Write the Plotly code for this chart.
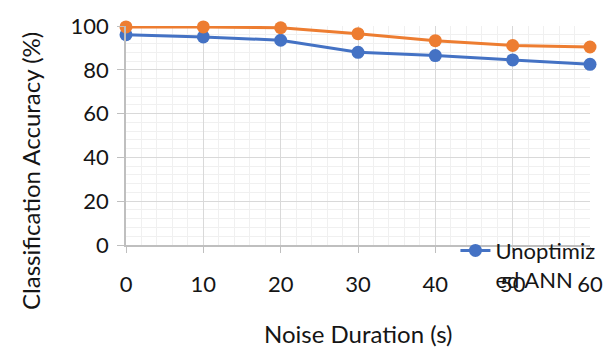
import plotly.graph_objects as go

noise_duration = [0, 10, 20, 30, 40, 50, 60]
unoptimized_ann = [96, 95, 93.5, 88, 86.5, 84.5, 82.5]
optimized_ann = [99.6, 99.6, 99.2, 96.5, 93.3, 91.1, 90.4]
y_ticks = [0, 20, 40, 60, 80, 100]
x_ticks = [0, 10, 20, 30, 40, 50, 60]

FONT = "Lato"
BLUE = "#4472C4"
ORANGE = "#ED7D31"
TXT = "#151515"

fig = go.Figure()
fig.add_trace(go.Scatter(
    x=noise_duration, y=unoptimized_ann, mode="lines+markers",
    name="Unoptimiz<br>ed ANN",
    line=dict(color=BLUE, width=3), marker=dict(color=BLUE, size=13),
    cliponaxis=False,
))
fig.add_trace(go.Scatter(
    x=noise_duration, y=optimized_ann, mode="lines+markers",
    name="Optimized ANN", showlegend=False,
    line=dict(color=ORANGE, width=3), marker=dict(color=ORANGE, size=13),
    cliponaxis=False,
))

fig.update_layout(
    width=615, height=349,
    margin=dict(l=126, r=22, t=16, b=104),
    paper_bgcolor="white", plot_bgcolor="white",
    font=dict(family=FONT, size=21, color=TXT),
    showlegend=True,
    legend=dict(x=0.71, y=0.07, xanchor="left", yanchor="top",
                bgcolor="rgba(0,0,0,0)", valign="top",
                font=dict(family=FONT, size=22, color=TXT)),
    xaxis=dict(range=[0, 60], tickvals=x_ticks, showgrid=True,
               gridcolor="#D9D9D9", gridwidth=1.3,
               showline=True, linecolor="#BFBFBF", linewidth=1.5,
               ticks="outside", ticklen=6, tickcolor="#BFBFBF",
               tickfont=dict(size=22),
               minor=dict(dtick=2, showgrid=True, gridcolor="#F0F0F0", gridwidth=1),
               zeroline=False, ticklabelstandoff=13),
    yaxis=dict(range=[0, 100], tickvals=y_ticks, showgrid=True,
               gridcolor="#D9D9D9", gridwidth=1.3,
               showline=True, linecolor="#BFBFBF", linewidth=1.5,
               ticks="outside", ticklen=7, tickcolor="#BFBFBF",
               tickfont=dict(size=22),
               minor=dict(dtick=4, showgrid=True, gridcolor="#F0F0F0", gridwidth=1),
               zeroline=False, ticklabelstandoff=4),
    annotations=[
        dict(text="Noise Duration (s)", x=0.5, y=-0.405, xref="paper", yref="paper",
             xanchor="center", yanchor="middle", showarrow=False,
             font=dict(family=FONT, size=24, color=TXT)),
        dict(text="Classification Accuracy (%)", x=-0.206, y=0.34, xref="paper", yref="paper",
             xanchor="center", yanchor="middle", showarrow=False, textangle=-90,
             font=dict(family=FONT, size=24, color=TXT)),
    ],
)

fig.write_html("out.html")
